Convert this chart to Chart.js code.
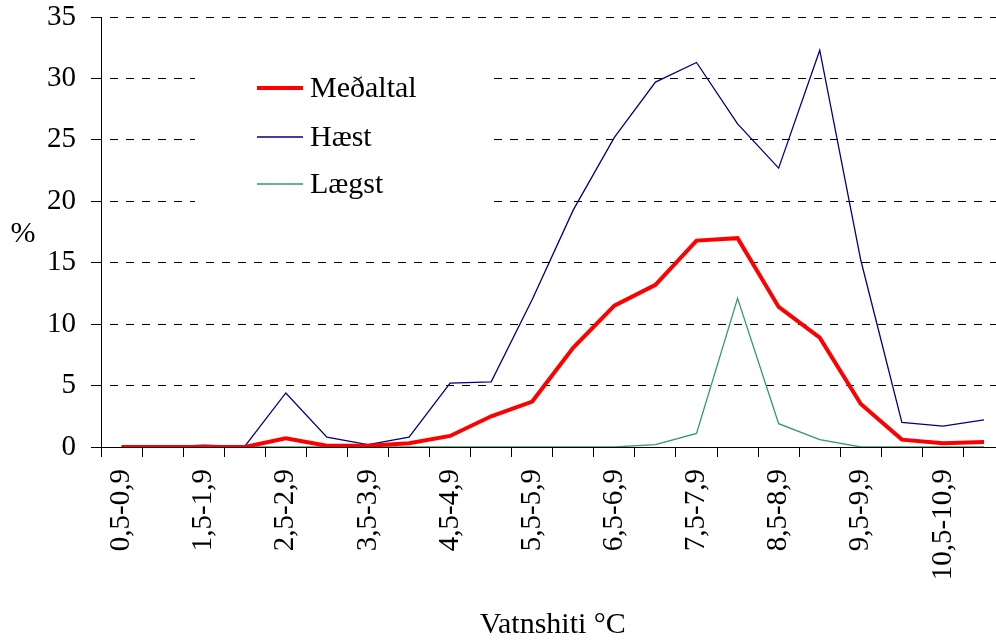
<!DOCTYPE html>
<html>
<head>
<meta charset="utf-8">
<script src="https://cdn.jsdelivr.net/npm/chart.js@4"></script>
<style>
  html, body { margin: 0; padding: 0; background: #fff; overflow: hidden; }
  #wrap { width: 1031px; height: 643px; position: relative; }
</style>
</head>
<body>
<div id="wrap"><canvas id="vatnshiti"></canvas></div>
<script>
// temperature bins
const categories = [
  '0,5-0,9', '1,0-1,4', '1,5-1,9', '2,0-2,4', '2,5-2,9', '3,0-3,4',
  '3,5-3,9', '4,0-4,4', '4,5-4,9', '5,0-5,4', '5,5-5,9', '6,0-6,4',
  '6,5-6,9', '7,0-7,4', '7,5-7,9', '8,0-8,4', '8,5-8,9', '9,0-9,4',
  '9,5-9,9', '10,0-10,4', '10,5-10,9', '11,0-11,4'
];

const medaltal = [0, 0, 0, 0, 0.7, 0.1, 0.1, 0.3, 0.9, 2.5, 3.7, 8.1,
  11.5, 13.2, 16.8, 17.0, 11.4, 8.9, 3.5, 0.6, 0.3, 0.4];
const haest = [0, 0, 0.15, 0.05, 4.4, 0.8, 0.2, 0.8, 5.2, 5.3, 12.0, 19.3,
  25.2, 29.7, 31.3, 26.3, 22.7, 32.3, 15.2, 2.0, 1.7, 2.2];
const laegst = [0, 0, 0, 0, 0, 0, 0, 0, 0, 0, 0, 0,
  0, 0.2, 1.1, 12.1, 1.9, 0.6, 0, 0, 0, 0];

const yTicks = [0, 5, 10, 15, 20, 25, 30, 35];

const FONT = 'Liberation Serif';

// legend box drawn inside the plot, over the grid lines
const boxLegend = {
  id: 'boxLegend',
  beforeDatasetsDraw(chart) {
    const ctx = chart.ctx;
    ctx.save();
    ctx.fillStyle = '#fff';
    ctx.fillRect(195, 58, 292, 155);
    const rows = [88, 137, 184];
    chart.data.datasets.forEach((ds, i) => {
      ctx.strokeStyle = ds.borderColor;
      ctx.lineWidth = ds.borderWidth;
      ctx.beginPath();
      ctx.moveTo(257, rows[i]);
      ctx.lineTo(303, rows[i]);
      ctx.stroke();
      ctx.fillStyle = '#000';
      ctx.font = '30px "' + FONT + '"';
      ctx.textBaseline = 'middle';
      ctx.textAlign = 'left';
      ctx.fillText(ds.label, 310, rows[i] + 1);
    });
    ctx.restore();
  },
  afterDraw(chart) {
    // unrotated y axis label
    const ctx = chart.ctx;
    ctx.save();
    ctx.fillStyle = '#000';
    ctx.font = '30px "' + FONT + '"';
    ctx.textAlign = 'center';
    ctx.textBaseline = 'middle';
    ctx.fillText('%', 23, 234);
    ctx.restore();
  }
};

new Chart(document.getElementById('vatnshiti'), {
  type: 'line',
  data: {
    labels: categories,
    datasets: [
      { label: 'Meðaltal', data: medaltal, borderColor: '#ff0000', borderWidth: 4 },
      { label: 'Hæst', data: haest, borderColor: '#000080', borderWidth: 1.3 },
      { label: 'Lægst', data: laegst, borderColor: '#339966', borderWidth: 1.3 }
    ]
  },
  options: {
    responsive: true,
    maintainAspectRatio: false,
    animation: false,
    layout: { padding: { top: 17, right: 8, left: 0, bottom: 0 } },
    elements: {
      point: { radius: 0 },
      line: { tension: 0, fill: false }
    },
    plugins: {
      legend: { display: false },
      tooltip: { enabled: false }
    },
    scales: {
      x: {
        offset: true,
        afterFit(scale) { scale.height = 196; },
        grid: {
          offset: true,
          drawOnChartArea: false,
          drawTicks: true,
          tickLength: 10,
          tickColor: '#000'
        },
        border: { display: true, color: '#000', width: 1 },
        ticks: {
          autoSkip: false,
          minRotation: 90,
          maxRotation: 90,
          padding: 12,
          color: '#000',
          font: { family: FONT, size: 29 },
          callback(v, i) { return i % 2 === 0 ? categories[i] : ''; }
        },
        title: {
          display: true,
          text: 'Vatnshiti °C',
          color: '#000',
          font: { family: FONT, size: 30 },
          padding: { top: 0, bottom: 0 }
        }
      },
      y: {
        min: 0,
        max: 35,
        afterFit(scale) {
          scale.width = 101;
          scale.paddingTop = 0;
          scale.paddingBottom = 0;
        },
        afterBuildTicks(scale) { scale.ticks = yTicks.map(v => ({ value: v })); },
        grid: {
          color: '#000',
          lineWidth: 1,
          tickLength: 10,
          tickColor: '#000',
          tickBorderDash: []
        },
        border: { display: true, color: '#000', width: 1, dash: [8, 8], dashOffset: -8 },
        ticks: {
          padding: 15,
          color: '#000',
          font: { family: FONT, size: 29 }
        }
      }
    }
  },
  plugins: [boxLegend]
});
</script>
</body>
</html>
